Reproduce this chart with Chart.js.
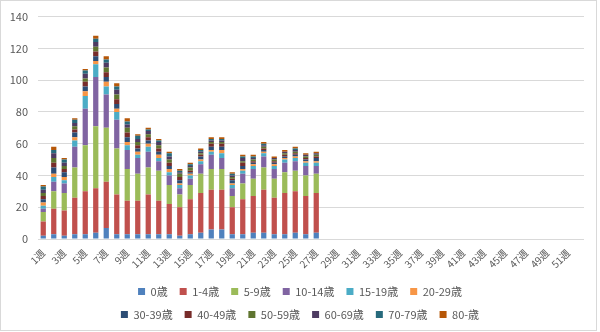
<!DOCTYPE html>
<html>
<head>
<meta charset="utf-8">
<script src="https://cdn.jsdelivr.net/npm/chart.js@4/dist/chart.umd.min.js"></script>
<style>
  body { margin: 0; background: #fff; }
  #wrap { position: relative; width: 600px; height: 332px; }
  #frame { position: absolute; left: 0; top: 0; width: 595px; height: 329px; border: 1px solid #d9d9d9; pointer-events: none; }
</style>
</head>
<body>
<div id="wrap">
  <canvas id="grafico" width="600" height="332"></canvas>
  <div id="frame"></div>
</div>
<script>
// semanas 1..52
const semanas = [];
for (let i = 1; i <= 52; i++) semanas.push(i + "週");

const grupos = ["0歳", "1-4歳", "5-9歳", "10-14歳", "15-19歳", "20-29歳",
                "30-39歳", "40-49歳", "50-59歳", "60-69歳", "70-79歳", "80-歳"];

const colores = ["#4F81BD", "#C0504D", "#9BBB59", "#8064A2", "#4BACC6", "#F79646",
                 "#2C4D75", "#772C2A", "#5F7530", "#4D3B62", "#276A7C", "#B65708"];

// valores por grupo de edad, semanas 1..27 (el resto sin datos)
const edad0     = [2, 3, 2, 3, 3, 4, 7, 3, 3, 3, 3, 3, 3, 2, 3, 4, 6, 6, 3, 3, 4, 4, 3, 3, 4, 3, 4];
const edad1_4   = [9, 16, 16, 23, 27, 28, 29, 25, 21, 21, 25, 21, 19, 18, 22, 25, 25, 25, 17, 22, 23, 27, 23, 26, 26, 24, 25];
const edad5_9   = [6, 11, 11, 19, 29, 39, 34, 29, 20, 17, 17, 19, 12, 8, 9, 12, 13, 13, 7, 10, 11, 14, 12, 13, 13, 13, 12];
const edad10_14 = [2, 6, 6, 13, 23, 31, 21, 18, 12, 10, 10, 6, 6, 4, 4, 6, 9, 7, 5, 6, 6, 7, 6, 6, 6, 6, 5];
const edad15_19 = [2, 3, 2, 4, 8, 8, 5, 5, 3, 2, 3, 2, 2, 2, 2, 2, 2, 3, 2, 2, 2, 2, 2, 2, 2, 2, 2];
const edad20_29 = [2, 2, 2, 2, 3, 2, 3, 2, 2, 2, 2, 2, 2, 1, 1, 1, 1, 2, 1, 1, 1, 1, 1, 1, 1, 1, 1];
const edad30_39 = [2, 4, 3, 3, 3, 3, 3, 3, 3, 2, 2, 2, 2, 2, 1, 2, 2, 2, 2, 2, 1, 1, 1, 1, 1, 1, 2];
const edad40_49 = [2, 3, 2, 2, 3, 3, 3, 3, 3, 2, 2, 2, 2, 2, 1, 1, 2, 2, 1, 2, 1, 1, 1, 1, 1, 1, 1];
const edad50_59 = [2, 3, 2, 2, 2, 3, 3, 3, 3, 2, 2, 2, 2, 2, 2, 1, 1, 1, 1, 1, 1, 1, 1, 1, 1, 1, 1];
const edad60_69 = [2, 3, 2, 2, 3, 3, 3, 3, 2, 2, 2, 2, 2, 1, 1, 1, 1, 1, 1, 2, 1, 1, 1, 1, 1, 1, 1];
const edad70_79 = [2, 2, 2, 2, 2, 2, 2, 2, 2, 2, 1, 1, 2, 1, 1, 1, 1, 1, 1, 1, 1, 1, 0, 0, 1, 0, 0];
const edad80    = [1, 2, 1, 1, 1, 2, 2, 2, 2, 1, 1, 1, 1, 1, 1, 1, 1, 1, 1, 1, 1, 1, 1, 1, 1, 1, 1];

const series = [edad0, edad1_4, edad5_9, edad10_14, edad15_19, edad20_29,
                edad30_39, edad40_49, edad50_59, edad60_69, edad70_79, edad80];

const ejeY = [0, 20, 40, 60, 80, 100, 120, 140];

const textoGris = "#595959";
const fuente = "'Noto Sans CJK JP', 'Noto Sans', sans-serif";
const tamLeyenda = 11, cajaLeyenda = 7, sepLeyenda = 12;

// ancho para que la leyenda quede en dos filas de 6, como el original
function anchoLeyenda(ctx) {
    ctx.save();
    ctx.font = tamLeyenda + "px " + fuente;
    const fila = (arr) => arr.reduce((s, t) =>
        s + cajaLeyenda + tamLeyenda / 2 + ctx.measureText(t).width + sepLeyenda, 0);
    const w = Math.max(fila(grupos.slice(0, 6)), fila(grupos.slice(6))) + sepLeyenda + 1;
    ctx.restore();
    return w;
}

const leyendaDosFilas = {
    id: "leyendaDosFilas",
    beforeLayout(chart) {
        const lg = chart.legend;
        if (lg && !lg._parcheado) {
            const orig = lg.update.bind(lg);
            lg.update = (maxW, maxH, margins) => orig(Math.min(maxW, anchoLeyenda(chart.ctx)), maxH, margins);
            lg._parcheado = true;
        }
    },
    afterLayout(chart) {
        const lg = chart.legend;
        const w = anchoLeyenda(chart.ctx);
        lg.left = (chart.width - w) / 2;
        lg.right = lg.left + w;
        lg.width = w;
    }
};

const ctx = document.getElementById("grafico").getContext("2d");
new Chart(ctx, {
    type: "bar",
    data: {
        labels: semanas,
        datasets: grupos.map((g, i) => ({
            label: g,
            data: series[i],
            backgroundColor: colores[i],
            borderWidth: 0,
            barPercentage: 0.5,
            categoryPercentage: 1.0
        }))
    },
    options: {
        responsive: false,
        animation: false,
        layout: { padding: { left: 5, right: 16, top: 13, bottom: 2 } },
        plugins: {
            legend: {
                position: "bottom",
                labels: {
                    color: textoGris,
                    font: { family: fuente, size: tamLeyenda },
                    boxWidth: cajaLeyenda,
                    boxHeight: cajaLeyenda,
                    padding: sepLeyenda
                }
            },
            tooltip: { enabled: false }
        },
        scales: {
            x: {
                stacked: true,
                grid: { display: false },
                border: { display: false },
                ticks: {
                    autoSkip: false,
                    minRotation: 45,
                    maxRotation: 45,
                    color: textoGris,
                    font: { family: fuente, size: 10 },
                    padding: 0,
                    callback: (v, i) => (i % 2 === 0 ? semanas[i] : "")
                },
                afterFit: (scale) => { scale.height = 35; }
            },
            y: {
                stacked: true,
                min: ejeY[0],
                max: ejeY[ejeY.length - 1],
                afterBuildTicks: (scale) => { scale.ticks = ejeY.map(v => ({ value: v })); },
                grid: { color: "#d9d9d9", drawTicks: false },
                border: { display: false },
                ticks: {
                    color: textoGris,
                    font: { family: fuente, size: 11 },
                    padding: 10
                },
                afterFit: (scale) => { scale.width = 33; }
            }
        }
    },
    plugins: [leyendaDosFilas]
});
</script>
</body>
</html>
